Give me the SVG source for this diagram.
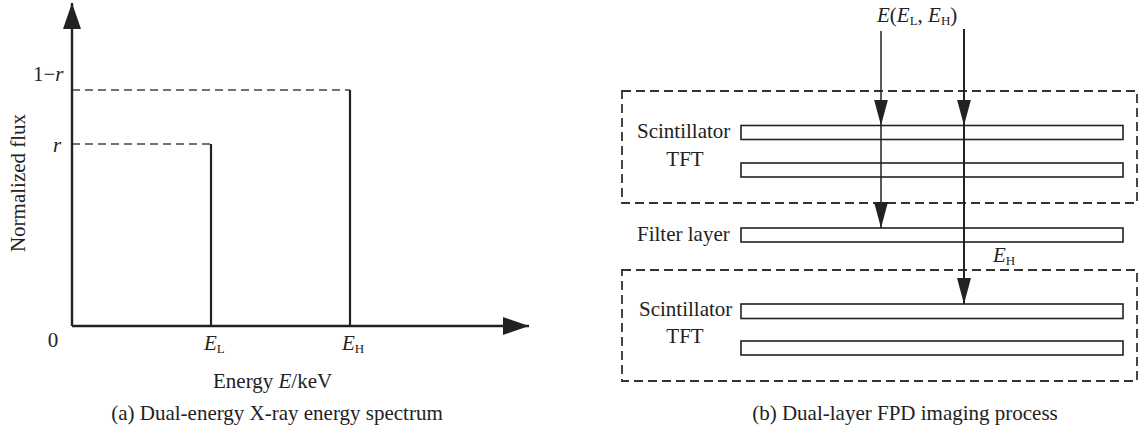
<svg xmlns="http://www.w3.org/2000/svg" width="1139" height="434" viewBox="0 0 1139 434">
  <defs>
    <marker id="axisHead" viewBox="0 0 26 18" refX="26" refY="9" markerWidth="26" markerHeight="18" markerUnits="userSpaceOnUse" orient="auto">
      <path d="M0,0 L26,9 L0,18 z" fill="#222"/>
    </marker>
    <marker id="rayHead" viewBox="0 0 26 14" refX="26" refY="7" markerWidth="26" markerHeight="14" markerUnits="userSpaceOnUse" orient="auto">
      <path d="M0,0 L26,7 L0,14 z" fill="#222"/>
    </marker>
    <style>
      text { font-family: "Liberation Serif", "Times New Roman", serif; font-size: 21px; fill: #222; }
      .it { font-style: italic; }
      .sub { font-size: 13px; }
      .axis { stroke: #222; stroke-width: 2.4; fill: none; }
      .bar { stroke: #222; stroke-width: 2.2; fill: none; }
      .guide { stroke: #444; stroke-width: 1.3; stroke-dasharray: 8 5; fill: none; }
      .box { stroke: #333; stroke-width: 1.8; stroke-dasharray: 9 5; fill: none; }
      .layer { stroke: #222; stroke-width: 1.6; fill: #fff; }
      .ray { stroke: #222; fill: none; }
    </style>
  </defs>

  <!-- Panel (a) -->
  <g id="spectrum">
    <path class="guide" d="M72,90 H350 M72,144 H211"/>
    <path class="bar" d="M211,144 V326 M350,90 V326"/>
    <path class="axis" d="M72,326 V3" marker-end="url(#axisHead)"/>
    <path class="axis" d="M72,326 H529" marker-end="url(#axisHead)"/>
    <text x="33" y="81">1−<tspan class="it">r</tspan></text>
    <text x="53" y="152" class="it">r</text>
    <text x="53" y="347" text-anchor="middle">0</text>
    <text x="204" y="350"><tspan class="it">E</tspan><tspan class="sub" dy="3">L</tspan></text>
    <text x="342" y="350"><tspan class="it">E</tspan><tspan class="sub" dy="3">H</tspan></text>
    <text transform="translate(25,183) rotate(-90)" text-anchor="middle">Normalized flux</text>
    <text x="213" y="388">Energy <tspan class="it">E</tspan>/keV</text>
    <text x="277" y="420" text-anchor="middle">(a) Dual-energy X-ray energy spectrum</text>
  </g>

  <!-- Panel (b) -->
  <g id="detector-upper">
    <rect class="box" x="622" y="91" width="515" height="112"/>
    <rect class="layer" x="741" y="125.5" width="382" height="14"/>
    <rect class="layer" x="741" y="163" width="382" height="14"/>
    <text x="637" y="138">Scintillator</text>
    <text x="685" y="166" text-anchor="middle">TFT</text>
  </g>

  <g id="filter-layer">
    <rect class="layer" x="741" y="228" width="382" height="14"/>
    <text x="637" y="241">Filter layer</text>
  </g>

  <g id="detector-lower">
    <rect class="box" x="622" y="270" width="515" height="111"/>
    <rect class="layer" x="741" y="304" width="382" height="14.5"/>
    <rect class="layer" x="741" y="341" width="382" height="14"/>
    <text x="639" y="316">Scintillator</text>
    <text x="685" y="343" text-anchor="middle">TFT</text>
  </g>

  <g id="source-label">
    <text x="877" y="22"><tspan class="it">E</tspan>(<tspan class="it">E</tspan><tspan class="sub" dy="3">L</tspan><tspan dy="-3">, </tspan><tspan class="it">E</tspan><tspan class="sub" dy="3">H</tspan><tspan dy="-3">)</tspan></text>
  </g>

  <g id="connectors">
    <path class="ray" stroke-width="1.5" d="M881,31 V125.5" marker-end="url(#rayHead)"/>
    <path class="ray" stroke-width="1.5" d="M881,125.5 V228" marker-end="url(#rayHead)"/>
    <path class="ray" stroke-width="2" d="M964,29 V125.5" marker-end="url(#rayHead)"/>
    <path class="ray" stroke-width="2" d="M964,125.5 V304" marker-end="url(#rayHead)"/>
    <text x="993" y="262"><tspan class="it">E</tspan><tspan class="sub" dy="3">H</tspan></text>
  </g>

  <text x="905" y="420" text-anchor="middle">(b) Dual-layer FPD imaging process</text>
</svg>
